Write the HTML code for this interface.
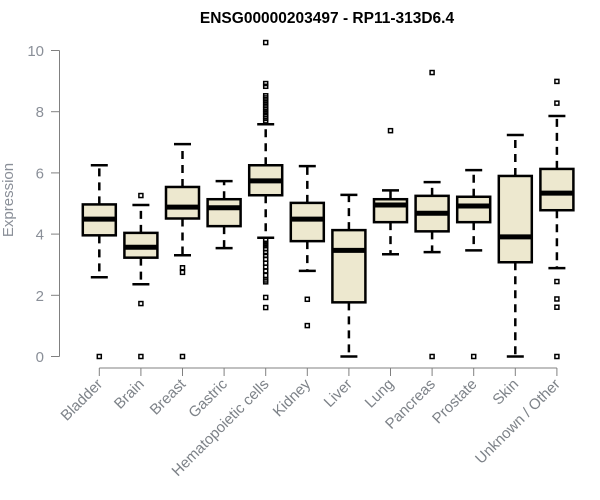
<!DOCTYPE html>
<html><head><meta charset="utf-8"><style>
body{margin:0;background:#fff;}
svg{display:block;font-family:"Liberation Sans",Arial,sans-serif;}
</style></head><body>
<svg id="chart" width="600" height="500" viewBox="0 0 600 500">
<text x="327" y="23" text-anchor="middle" font-weight="bold" font-size="15.5" fill="#000">ENSG00000203497 - RP11-313D6.4</text>
<text transform="translate(13,200) rotate(-90)" text-anchor="middle" font-size="15" fill="#8a8f98">Expression</text>
<g id="plot"></g>
</svg>
<script>
const categories=["Bladder","Brain","Breast","Gastric","Hematopoietic cells","Kidney","Liver","Lung","Pancreas","Prostate","Skin","Unknown / Other"];
const whiskerLow=[2.59,2.36,3.31,3.54,3.88,2.80,0.0,3.34,3.41,3.47,0.0,2.89];
const q1=[3.96,3.23,4.51,4.26,5.27,3.77,1.77,4.39,4.09,4.39,3.08,4.78];
const medians=[4.49,3.57,4.88,4.86,5.74,4.49,3.47,4.95,4.68,4.92,3.91,5.34];
const q3=[4.97,4.04,5.54,5.14,6.25,5.02,4.13,5.14,5.25,5.22,5.90,6.13];
const whiskerHigh=[6.25,4.95,6.94,5.73,7.59,6.22,5.28,5.43,5.70,6.09,7.24,7.86];
const outliers=[[0],[5.26,1.73,0],[2.90,2.75,0],[],
[10.26,8.92,8.83,8.52,8.45,8.38,8.30,8.22,8.15,8.08,8.0,7.92,7.85,7.78,7.70,3.80,3.70,3.62,3.52,3.40,3.30,3.18,3.05,2.92,2.80,2.65,2.50,2.44,1.93,1.60],
[1.87,1.01],[],[7.38],[9.28,0],[0],[],[8.99,8.28,2.45,1.88,1.61,0]];
const yTicks=[0,2,4,6,8,10];

const NS="http://www.w3.org/2000/svg";
const plot=document.getElementById('plot');
const y=v=>356.5-v*30.6;
const x=i=>99.3+i*41.6;
const hw=16.5;
function mk(tag,attrs){const e=document.createElementNS(NS,tag);for(const k in attrs)e.setAttribute(k,attrs[k]);plot.appendChild(e);return e;}

let ax=mk('line',{x1:59.5,y1:y(0),x2:59.5,y2:y(10),stroke:'#808080','stroke-width':1});


yTicks.forEach(t=>{
  const tk=mk('line',{x1:51,y1:y(t),x2:59.5,y2:y(t),stroke:'#808080'});
  
  
  const tl=mk('text',{x:44,y:y(t)+5.5,'text-anchor':'end','font-size':15,fill:'#8a8f98'});
  tl.textContent=t;
  
  
});
let xa=mk('line',{x1:x(0),y1:368,x2:x(categories.length-1),y2:368,stroke:'#808080'});



categories.forEach((c,i)=>{
  const cx=x(i);
  const tk=mk('line',{x1:cx,y1:368,x2:cx,y2:376,stroke:'#808080'});
  
  
  const tl=mk('text',{x:0,y:0,'text-anchor':'end','font-size':15,fill:'#7d8288',transform:`translate(${cx+4},${385}) rotate(-45)`});
  tl.textContent=c;
  
  
  const w1=mk('line',{x1:cx,y1:y(q3[i]),x2:cx,y2:y(whiskerHigh[i]),stroke:'#000','stroke-width':2.5,'stroke-dasharray':'8,6'});
  
  
  const w2=mk('line',{x1:cx,y1:y(q1[i]),x2:cx,y2:y(whiskerLow[i]),stroke:'#000','stroke-width':2.5,'stroke-dasharray':'8,6'});
  
  
  const c1=mk('line',{x1:cx-8.5,y1:y(whiskerHigh[i]),x2:cx+8.5,y2:y(whiskerHigh[i]),stroke:'#000','stroke-width':2.5});
  
  
  const c2=mk('line',{x1:cx-8.5,y1:y(whiskerLow[i]),x2:cx+8.5,y2:y(whiskerLow[i]),stroke:'#000','stroke-width':2.5});
  
  
  const b=mk('rect',{x:cx-hw,y:y(q3[i]),width:hw*2,height:y(q1[i])-y(q3[i]),fill:'#ede8cf',stroke:'#000','stroke-width':2.5});
  
  
  const m=mk('line',{x1:cx-hw,y1:y(medians[i]),x2:cx+hw,y2:y(medians[i]),stroke:'#000','stroke-width':5});
  
  
  outliers[i].forEach(v=>{
    const o=mk('rect',{x:cx-2,y:y(v)-2,width:4,height:4,fill:'none',stroke:'#000','stroke-width':1.5});
    
    
  });
});
</script>
</body></html>
